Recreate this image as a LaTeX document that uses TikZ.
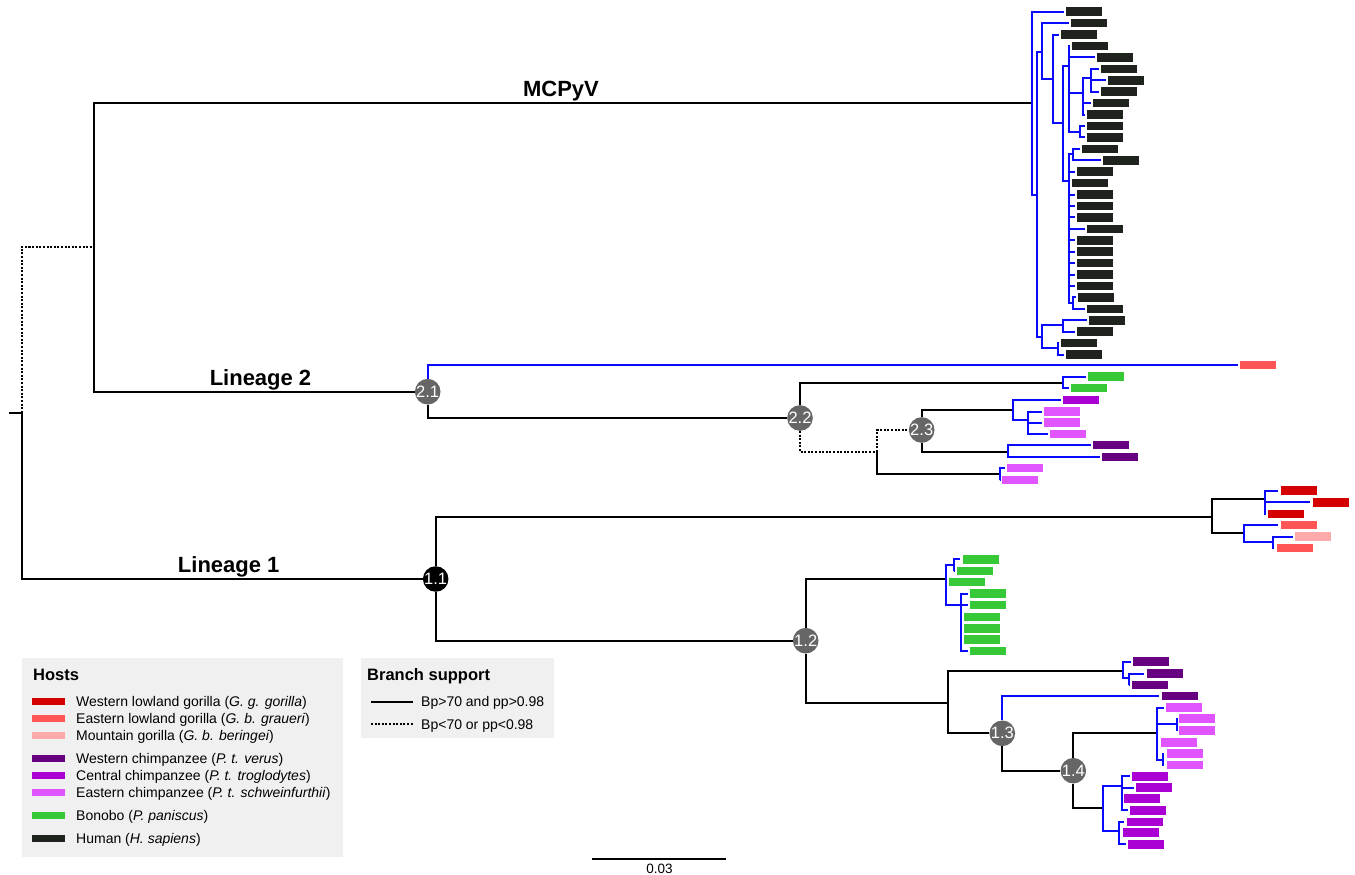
\documentclass[tikz,border=0pt]{standalone}
\usepackage{fontspec}
\setmainfont{Liberation Sans}
\definecolor{hum}{RGB}{30,35,30}
\definecolor{wlg}{RGB}{212,0,0}
\definecolor{elg}{RGB}{255,85,85}
\definecolor{mgo}{RGB}{255,170,170}
\definecolor{wch}{RGB}{102,0,128}
\definecolor{cch}{RGB}{170,0,212}
\definecolor{ech}{RGB}{224,85,255}
\definecolor{bon}{RGB}{55,200,55}
\definecolor{bline}{RGB}{10,10,255}
\definecolor{ngray}{RGB}{102,102,102}
\definecolor{legbg}{RGB}{240,240,240}
\begin{document}
\begin{tikzpicture}[x=1pt,y=-1pt,
  br/.style={line width=2.3pt,black},
  bl/.style={line width=2pt,bline},
  lf/.style={line width=2pt,bline,shorten >=2.5pt},
  dt/.style={line width=2.3pt,black,dash pattern=on 2pt off 1.6pt},
  leaf/.style={rectangle,anchor=west,minimum width=36pt,minimum height=8.5pt,inner sep=0pt,outer sep=0pt},
  hn/.style={circle,fill=ngray,minimum size=25.5pt,inner sep=0pt,text=white,font=\fontsize{16.5}{16.5}\selectfont},
  lab/.style={anchor=base,font=\fontsize{22}{22}\selectfont\bfseries},
  swatch/.style={rectangle,minimum width=33pt,minimum height=7pt,inner sep=0pt},
  ltext/.style={anchor=base west,font=\fontsize{14}{14}\selectfont,inner sep=0pt},
  ltitle/.style={anchor=base west,font=\fontsize{16.5}{16.5}\selectfont\bfseries,inner sep=0pt}]
\useasboundingbox (0,0) rectangle (1355,875);

% ---------- backbone ----------
\coordinate (rs) at (9,412.7);
\coordinate (r) at (21.7,412.7);
\coordinate (A) at (94,246.7);
\coordinate (m0) at (1031.7,102.7);
\node[hn] (n21) at (427.7,391.7) {2.1};
\node[hn,fill=black] (n11) at (435.7,579) {1.1};
\draw[br] (rs) -- (r);
\draw[dt] (r) |- (A);
\draw[br] (r) |- (n11);
\draw[br] (A) |- (m0);
\draw[br] (A) |- (n21);

\node[lab] (lmc) at (561,96) {MCPyV};
\node[lab] (ll2) at (260.5,385) {Lineage 2};
\node[lab] (ll1) at (228.7,572.3) {Lineage 1};

% ---------- MCPyV clade ----------
\coordinate (m1) at (1036.7,194.6);
\coordinate (m2) at (1042.3,52);
\coordinate (m3) at (1053.3,79.3);
\coordinate (m4) at (1062.7,123);
\coordinate (m5) at (1069,65.7);
\coordinate (m5a) at (1083,93);
\coordinate (m5c) at (1090.7,78);
\coordinate (m5b) at (1080,131.7);
\coordinate (m6) at (1069,181);
\coordinate (m6a) at (1073,154);
\coordinate (m6b) at (1073,303);
\coordinate (m9) at (1041.7,336.7);
\coordinate (m9a) at (1063.3,325);
\coordinate (m9b) at (1058.3,348.3);
\foreach \p/\c in {m0/m1,m1/m2,m1/m9,m2/m3,m3/m4,m4/m5,m4/m6,m5/m5a,m5/m5b,m5a/m5c,m6/m6a,m6/m6b,m9/m9a,m9/m9b}
  \draw[bl] (\p) |- (\c);
\foreach \i/\x/\p in {1/1066/m0,2/1071/m2,3/1061/m3,4/1072/m5,5/1097/m5,6/1101/m5c,7/1108/m5c,8/1101/m5c,
  9/1093/m5a,10/1087/m5a,11/1087/m5b,12/1087/m5b,13/1082/m6a,14/1103/m6a,15/1077/m6,16/1072/m6,
  17/1077/m6,18/1077/m6,19/1077/m6,20/1087/m6,21/1077/m6,22/1077/m6,23/1077/m6,24/1077/m6,25/1077/m6,
  26/1078/m6b,27/1087/m6b,28/1089/m9a,29/1077/m9a,30/1061/m9b,31/1066/m9b}{
  \node[leaf,fill=hum] (h\i) at (\x,{11.7+(\i-1)*11.43}) {};
  \draw[lf] (\p) |- (h\i);
}

% ---------- Lineage 2 ----------
\node[leaf,fill=elg] (g2l) at (1240,365) {};
\draw[lf] (n21) |- (g2l);
\node[hn] (n22) at (800,418) {2.2};
\draw[br] (n21) |- (n22);
\coordinate (c22a) at (1063,382.7);
\coordinate (c22b) at (877,452);
\coordinate (c22c) at (1000,474.3);
\node[hn] (n23) at (921.7,430) {2.3};
\draw[br] (n22) |- (c22a);
\draw[dt] (n22) |- (c22b);
\draw[dt] (c22b) |- (n23);
\draw[br] (c22b) |- (c22c);
\node[leaf,fill=bon] (bb1) at (1088,376.7) {};
\node[leaf,fill=bon] (bb2) at (1071,388) {};
\draw[lf] (c22a) |- (bb1);
\draw[lf] (c22a) |- (bb2);
\coordinate (c23a) at (1013,410);
\coordinate (c23b) at (1008,451.7);
\coordinate (c23c) at (1028,420);
\draw[br] (n23) |- (c23a);
\draw[br] (n23) |- (c23b);
\draw[bl] (c23a) |- (c23c);
\node[leaf,fill=cch] (pc1) at (1063,400) {};
\draw[lf] (c23a) |- (pc1);
\foreach \n/\x/\y in {ee1/1044/411.7,ee2/1044/422.5,ee3/1050/434}{
  \node[leaf,fill=ech] (\n) at (\x,\y) {};
  \draw[lf] (c23c) |- (\n);
}
\foreach \n/\x/\y in {ww1/1093/445,ww2/1102/457}{
  \node[leaf,fill=wch] (\n) at (\x,\y) {};
  \draw[lf] (c23b) |- (\n);
}
\foreach \n/\x/\y in {ee4/1007/468,ee5/1002/480}{
  \node[leaf,fill=ech] (\n) at (\x,\y) {};
  \draw[lf] (c22c) |- (\n);
}

% ---------- Lineage 1: gorillas ----------
\coordinate (g0) at (1211.7,516.7);
\coordinate (g1) at (1265,499.3);
\coordinate (g2) at (1244,533.3);
\coordinate (g3) at (1272.7,541.7);
\draw[br] (n11) |- (g0);
\draw[br] (g0) |- (g1);
\draw[br] (g0) |- (g2);
\draw[bl] (g2) |- (g3);
\foreach \n/\x/\y in {wg1/1280.7/490.7,wg2/1312.7/502.3,wg3/1268/514}{
  \node[leaf,fill=wlg] (\n) at (\x,\y) {};
  \draw[lf] (g1) |- (\n);
}
\node[leaf,fill=elg] (eg1) at (1280.7,525) {};
\draw[lf] (g2) |- (eg1);
\node[leaf,fill=mgo] (mg1) at (1295,536.7) {};
\node[leaf,fill=elg] (eg2) at (1276.7,548) {};
\draw[lf] (g3) |- (mg1);
\draw[lf] (g3) |- (eg2);

% ---------- Lineage 1: bonobos ----------
\node[hn] (n12) at (805.7,640.7) {1.2};
\draw[br] (n11) |- (n12);
\coordinate (b0) at (946,579.3);
\coordinate (b1) at (954.3,565);
\coordinate (b2) at (961,605);
\draw[br] (n12) |- (b0);
\draw[bl] (b0) |- (b1);
\draw[bl] (b0) |- (b2);
\foreach \n/\x/\y in {bo1/962.7/559.3,bo2/956.7/571}{
  \node[leaf,fill=bon] (\n) at (\x,\y) {};
  \draw[lf] (b1) |- (\n);
}
\node[leaf,fill=bon] (bo3) at (949.3,582) {};
\draw[lf] (b0) |- (bo3);
\foreach \n/\x/\y in {bo4/970/593.5,bo5/970/605,bo6/964.3/617,bo7/964.3/628.5,bo8/964.3/639.5,bo9/970/651}{
  \node[leaf,fill=bon] (\n) at (\x,\y) {};
  \draw[lf] (b2) |- (\n);
}

% ---------- Lineage 1: chimpanzees ----------
\coordinate (c0) at (948.3,702.7);
\coordinate (c1) at (1123.3,670.7);
\coordinate (c1a) at (1129.3,678.3);
\node[hn] (n13) at (1002.3,733.3) {1.3};
\node[hn] (n14) at (1073.3,770.7) {1.4};
\draw[br] (n12) |- (c0);
\draw[br] (c0) |- (c1);
\draw[br] (c0) |- (n13);
\draw[bl] (c1) |- (c1a);
\node[leaf,fill=wch] (wc1) at (1133.3,661.7) {};
\draw[lf] (c1) |- (wc1);
\node[leaf,fill=wch] (wc2) at (1146.7,673.5) {};
\node[leaf,fill=wch] (wc3) at (1131.7,685) {};
\draw[lf] (c1a) |- (wc2);
\draw[lf] (c1a) |- (wc3);
\node[leaf,fill=wch] (wc4) at (1161.7,696) {};
\draw[lf] (n13) |- (wc4);
\draw[br] (n13) |- (n14);
\coordinate (e0) at (1156.7,733.3);
\coordinate (e1) at (1176.7,724);
\coordinate (e2) at (1163.3,760);
\coordinate (p0) at (1103.3,808.3);
\coordinate (p1) at (1121.7,786);
\coordinate (p2) at (1119.3,831);
\draw[br] (n14) |- (e0);
\draw[br] (n14) |- (p0);
\draw[bl] (e0) |- (e1);
\draw[bl] (e0) |- (e2);
\draw[bl] (p0) |- (p1);
\draw[bl] (p0) |- (p2);
\foreach \n/\x/\y/\p in {ec1/1166/707.7/e0,ec2/1179.3/718.7/e1,ec3/1179.3/730.3/e1,ec4/1160.7/742.3/e0,ec5/1166.7/753.5/e2,ec6/1166.7/765/e2}{
  \node[leaf,fill=ech] (\n) at (\x,\y) {};
  \draw[lf] (\p) |- (\n);
}
\foreach \n/\x/\y/\p in {cc1/1132.3/776.3/p1,cc2/1136/787.7/p1,cc3/1124.3/798.3/p1,cc4/1130/810.3/p1,cc5/1126.7/822/p2,cc6/1122.7/832.5/p2,cc7/1128.3/844.3/p2}{
  \node[leaf,fill=cch] (\n) at (\x,\y) {};
  \draw[lf] (\p) |- (\n);
}

% ---------- legends ----------
\node[rectangle,fill=legbg,anchor=north west,minimum width=321pt,minimum height=199pt,inner sep=0pt] (hostbox) at (22,657.3) {};
\node[ltitle] (hosttitle) at (33,680.7) {Hosts};
\foreach \k/\c/\y/\t in {
  1/wlg/701.7/{Western lowland gorilla (\textit{G. g. gorilla})},
  2/elg/718.5/{Eastern lowland gorilla (\textit{G. b. graueri})},
  3/mgo/735.7/{Mountain gorilla (\textit{G. b. beringei})},
  4/wch/758.3/{Western chimpanzee (\textit{P. t. verus})},
  5/cch/775.7/{Central chimpanzee (\textit{P. t. troglodytes})},
  6/ech/792.7/{Eastern chimpanzee (\textit{P. t. schweinfurthii})},
  7/bon/815/{Bonobo (\textit{P. paniscus})},
  8/hum/838.3/{Human (\textit{H. sapiens})}}{
  \node[swatch,fill=\c] (sw\k) at (48.5,\y) {};
  \node[ltext] (tx\k) at (76,\y+5) {\t};
}
\node[rectangle,fill=legbg,anchor=north west,minimum width=193pt,minimum height=80pt,inner sep=0pt] (bsbox) at (361,657.3) {};
\node[ltitle] (bstitle) at (367,680.7) {Branch support};
\coordinate (bs1a) at (371,701.7);
\coordinate (bs1b) at (412.5,701.7);
\coordinate (bs2a) at (371,724);
\coordinate (bs2b) at (412.5,724);
\draw[br] (bs1a) -- (bs1b);
\draw[dt] (bs2a) -- (bs2b);
\node[ltext] (bst1) at (421,706.7) {Bp>70 and pp>0.98};
\node[ltext] (bst2) at (421,729) {Bp<70 or pp<0.98};

% ---------- scale bar ----------
\coordinate (sb1) at (592.3,859);
\coordinate (sb2) at (725.7,859);
\draw[line width=2.3pt] (sb1) -- (sb2);
\node[anchor=base,font=\fontsize{13.5}{13.5}\selectfont,inner sep=0pt] (sbl) at (659.5,873) {0.03};
\end{tikzpicture}
\end{document}
